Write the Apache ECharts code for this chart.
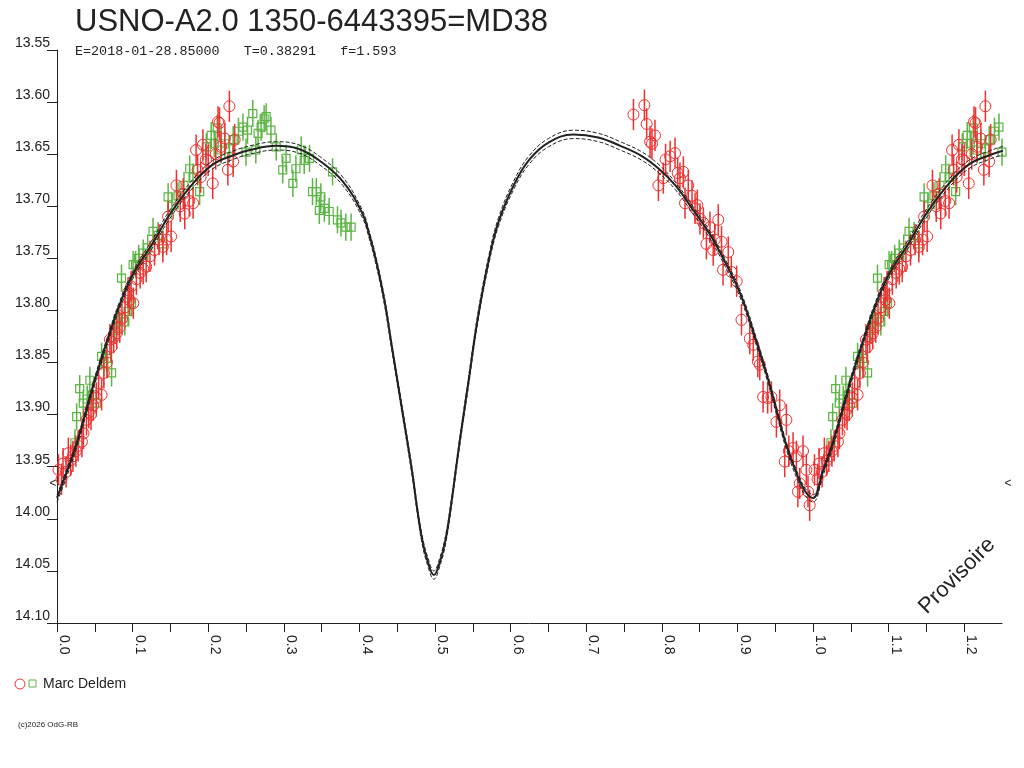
<!DOCTYPE html>
<html><head><meta charset="utf-8">
<script src="https://cdn.jsdelivr.net/npm/echarts@6/dist/echarts.min.js"></script>
<style>html,body{margin:0;padding:0;background:#fff}#c{width:1024px;height:768px}</style>
</head><body><div id="c"></div>
<script>
const titleText = 'USNO-A2.0 1350-6443395=MD38';
const subtitleText = 'E=2018-01-28.85000   T=0.38291   f=1.593';
const observerName = 'Marc Deldem';
const copyrightText = '(c)2026 OdG-RB';
const stampText = 'Provisoire';

// observations: [phase, magnitude]
const redPoints = [
[0.002,13.953],[0.006,13.962],[0.008,13.947],[0.012,13.955],[0.015,13.937],[0.018,13.944],[0.021,13.940],[0.025,13.935],
[0.028,13.930],[0.033,13.926],[0.035,13.918],[0.039,13.905],[0.042,13.898],[0.045,13.900],[0.048,13.891],[0.052,13.884],
[0.055,13.870],[0.059,13.881],[0.062,13.860],[0.066,13.850],[0.070,13.828],[0.072,13.835],[0.075,13.826],[0.079,13.822],
[0.083,13.816],[0.086,13.808],[0.090,13.797],[0.094,13.783],[0.096,13.790],[0.098,13.777],[0.101,13.793],[0.105,13.770],
[0.110,13.764],[0.114,13.760],[0.118,13.758],[0.123,13.748],[0.129,13.742],[0.135,13.732],[0.140,13.739],[0.145,13.732],
[0.147,13.710],[0.151,13.729],[0.158,13.680],[0.163,13.700],[0.167,13.688],[0.169,13.707],[0.175,13.695],[0.180,13.697],
[0.184,13.646],[0.186,13.665],[0.190,13.672],[0.193,13.641],[0.197,13.655],[0.200,13.656],[0.206,13.678],[0.210,13.650],
[0.213,13.619],[0.215,13.620],[0.217,13.643],[0.222,13.635],[0.226,13.665],[0.228,13.604],[0.233,13.657],[0.235,13.636],
[0.7625,13.612],[0.777,13.603],[0.780,13.621],[0.7845,13.638],[0.787,13.640],[0.791,13.632],[0.7955,13.680],[0.802,13.673],
[0.805,13.655],[0.811,13.652],[0.8175,13.649],[0.821,13.668],[0.824,13.673],[0.8285,13.667],[0.8307,13.697],[0.835,13.680],
[0.840,13.690],[0.844,13.702],[0.847,13.699],[0.8505,13.712],[0.855,13.716],[0.859,13.736],[0.8637,13.720],[0.868,13.742],
[0.870,13.732],[0.8747,13.713],[0.879,13.734],[0.881,13.761],[0.8879,13.744],[0.892,13.763],[0.899,13.772],[0.9054,13.809],
[0.9164,13.827],[0.921,13.833],[0.927,13.849],[0.9296,13.852],[0.934,13.883],[0.940,13.884],[0.945,13.883],[0.9516,13.907],
[0.956,13.891],[0.9626,13.945],[0.9648,13.905],[0.968,13.935],[0.9736,13.932],[0.978,13.940],[0.980,13.974],[0.9824,13.966],
[0.9868,13.935],[0.9912,13.953],[0.9934,13.974],[0.9956,13.987]
];
const greenPoints = [
[0.0237,13.927],[0.026,13.902],[0.030,13.875],[0.0347,13.889],[0.040,13.885],[0.0435,13.867],[0.047,13.881],[0.052,13.889],
[0.059,13.844],[0.062,13.850],[0.0656,13.846],[0.0722,13.860],[0.0765,13.819],[0.081,13.808],[0.0853,13.769],[0.0897,13.811],
[0.094,13.801],[0.0985,13.793],[0.1007,13.756],[0.104,13.756],[0.108,13.750],[0.114,13.745],[0.120,13.740],[0.127,13.724],
[0.1337,13.728],[0.140,13.736],[0.147,13.691],[0.152,13.700],[0.160,13.690],[0.168,13.680],[0.1755,13.664],[0.180,13.672],
[0.1887,13.686],[0.1975,13.643],[0.204,13.632],[0.208,13.640],[0.212,13.625],[0.217,13.646],[0.222,13.640],[0.228,13.645],
[0.233,13.636],[0.240,13.628],[0.246,13.624],[0.250,13.648],[0.252,13.627],[0.259,13.611],[0.263,13.646],[0.266,13.630],
[0.270,13.624],[0.274,13.616],[0.2767,13.614],[0.283,13.627],[0.290,13.643],[0.2986,13.665],[0.303,13.654],[0.312,13.678],
[0.316,13.664],[0.323,13.646],[0.327,13.656],[0.334,13.654],[0.338,13.686],[0.343,13.686],[0.347,13.704],[0.349,13.691],
[0.3536,13.702],[0.360,13.705],[0.3645,13.667],[0.371,13.713],[0.3756,13.716],[0.382,13.720],[0.389,13.720]
];
const redErr = 0.015;
const greenErr = 0.013;

// model light curves
const modelPhase = [0,0.013,0.026,0.039,0.052,0.066,0.081,0.1,0.127,0.149,0.18,0.206,0.233,0.255,0.29,0.32,0.347,0.378,0.404,0.413,0.422,0.433,0.443,0.454,0.463,0.47,0.476,0.483,0.49,0.4985,0.507,0.514,0.521,0.527,0.533,0.544,0.556,0.571,0.584,0.604,0.624,0.65,0.683,0.716,0.745,0.774,0.796,0.818,0.84,0.862,0.884,0.905,0.927,0.941,0.953,0.965,0.978,0.99,1.0];
const modelSolid = [13.980,13.955,13.928,13.895,13.862,13.830,13.798,13.766,13.735,13.708,13.678,13.660,13.651,13.646,13.642,13.645,13.656,13.676,13.707,13.727,13.752,13.790,13.835,13.884,13.924,13.956,13.988,14.020,14.040,14.054,14.040,14.020,13.988,13.956,13.924,13.870,13.810,13.752,13.715,13.680,13.656,13.639,13.631,13.634,13.642,13.652,13.664,13.680,13.702,13.725,13.754,13.786,13.834,13.867,13.899,13.930,13.956,13.974,13.980];
const modelDashA = [13.977,13.952,13.925,13.892,13.859,13.827,13.795,13.763,13.731,13.704,13.674,13.656,13.647,13.642,13.638,13.641,13.652,13.672,13.704,13.724,13.749,13.787,13.832,13.881,13.921,13.953,13.985,14.016,14.036,14.050,14.036,14.016,13.985,13.953,13.921,13.866,13.806,13.748,13.711,13.676,13.652,13.635,13.627,13.630,13.638,13.648,13.660,13.677,13.699,13.722,13.751,13.783,13.831,13.864,13.896,13.927,13.953,13.971,13.977];
const modelDashB = [13.984,13.959,13.932,13.899,13.866,13.834,13.802,13.770,13.739,13.712,13.682,13.664,13.655,13.650,13.646,13.649,13.660,13.680,13.711,13.731,13.756,13.794,13.839,13.888,13.928,13.960,13.992,14.024,14.044,14.058,14.044,14.024,13.992,13.960,13.928,13.874,13.814,13.756,13.719,13.684,13.660,13.643,13.635,13.638,13.646,13.656,13.668,13.684,13.706,13.729,13.758,13.790,13.838,13.871,13.903,13.934,13.960,13.978,13.984];

const X_MAX = 1.25;
function wrapPoints(pts){
  return pts.concat(pts.filter(p => p[0] + 1 <= X_MAX).map(p => [p[0] + 1, p[1]]));
}
function wrapCurve(mags){
  const pts = modelPhase.map((p,i) => [p, mags[i]]);
  return pts.concat(pts.filter(p => p[0] > 0 && p[0] <= 0.3).map(p => [p[0] + 1, p[1]]));
}

const RED = '#ee3030', GREEN = '#5cb445', INK = '#222';
const FONT = '"Liberation Sans", Arial, sans-serif';

function errSeries(name, pts, err, color, shape){
  return {
    type: 'custom', name, clip: false, z: 2,
    data: wrapPoints(pts),
    renderItem(params, api){
      const x = api.value(0), y = api.value(1);
      const c = api.coord([x, y]);
      const top = api.coord([x, y - err]);
      const bot = api.coord([x, y + err]);
      const children = [{
        type: 'line', shape: {x1: c[0], y1: top[1], x2: c[0], y2: bot[1]},
        style: {stroke: color, lineWidth: 1.5}
      }];
      if (shape === 'circle') {
        children.push({type: 'circle', shape: {cx: c[0], cy: c[1], r: 5.5}, style: {fill: null, stroke: color, lineWidth: 1}});
      } else {
        children.push({type: 'rect', shape: {x: c[0] - 4, y: c[1] - 4, width: 8, height: 8}, style: {fill: null, stroke: color, lineWidth: 1.2}});
      }
      return {type: 'group', children};
    }
  };
}
function modelSeries(mags, dashed, width){
  return {
    type: 'line', data: wrapCurve(mags), showSymbol: false, smooth: 0.4, clip: true, z: 3,
    lineStyle: {color: INK, width, type: dashed ? [4, 2] : 'solid'}, silent: true, animation: false
  };
}

const chart = echarts.init(document.getElementById('c'), null, {renderer: 'canvas'});
chart.setOption({
  animation: false,
  backgroundColor: '#fff',
  title: {text: titleText, left: 70, top: 2, textStyle: {fontSize: 31, fontWeight: 'normal', color: INK, fontFamily: FONT}},
  grid: {left: 57, right: 22, top: 50, bottom: 145, outerBoundsMode: 'none'},
  xAxis: {
    type: 'value', min: 0, max: X_MAX, interval: 0.05,
    splitLine: {show: false},
    axisLine: {onZero: false, lineStyle: {color: INK, width: 1}},
    axisTick: {show: true, length: 9, lineStyle: {color: INK}},
    axisLabel: {
      rotate: -90, fontSize: 14, color: INK, fontFamily: FONT, margin: 12, verticalAlign: 'bottom',
      showMaxLabel: false,
      formatter: v => (Math.round(v * 100) % 10 === 0 ? v.toFixed(1) : '')
    }
  },
  yAxis: {
    type: 'value', inverse: true, min: 13.55, max: 14.10, interval: 0.05,
    splitLine: {show: false},
    axisLine: {onZero: false, lineStyle: {color: INK, width: 1}},
    axisTick: {show: true, length: 10, lineStyle: {color: INK}},
    axisLabel: {fontSize: 14, color: INK, fontFamily: FONT, margin: 7, verticalAlign: 'bottom', lineHeight: 14, formatter: v => v.toFixed(2)}
  },
  series: [
    errSeries('green', greenPoints, greenErr, GREEN, 'square'),
    errSeries('red', redPoints, redErr, RED, 'circle'),
    modelSeries(modelDashA, true, 1),
    modelSeries(modelDashB, true, 1),
    modelSeries(modelSolid, false, 2)
  ],
  graphic: [
    {type: 'text', x: 75, y: 51, style: {text: subtitleText, font: '13.4px "Liberation Mono", "DejaVu Sans Mono", monospace', fill: INK, verticalAlign: 'middle'}},
    {type: 'circle', shape: {cx: 20, cy: 684, r: 5}, style: {fill: null, stroke: RED, lineWidth: 1}},
    {type: 'rect', shape: {x: 29, y: 680, width: 7, height: 7}, style: {fill: null, stroke: GREEN, lineWidth: 1}},
    {type: 'text', x: 43, y: 684, style: {text: observerName, font: '14px ' + FONT, fill: INK, verticalAlign: 'middle'}},
    {type: 'text', x: 18, y: 725, style: {text: copyrightText, font: '8px ' + FONT, fill: INK, verticalAlign: 'middle'}},
    {type: 'text', x: 957, y: 576, rotation: Math.PI / 4, style: {text: stampText, font: '22px ' + FONT, fill: INK, align: 'center', verticalAlign: 'middle'}},
    {type: 'text', x: 53, y: 484, style: {text: '<', font: '12px ' + FONT, fill: INK, align: 'center', verticalAlign: 'middle'}},
    {type: 'text', x: 1008, y: 484, style: {text: '<', font: '12px ' + FONT, fill: INK, align: 'center', verticalAlign: 'middle'}}
  ]
});
</script>
</body></html>
